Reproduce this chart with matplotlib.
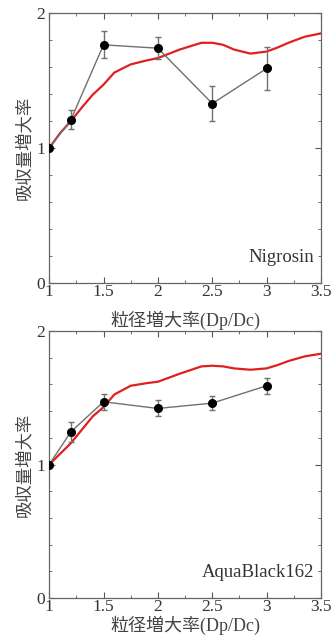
import matplotlib.pyplot as plt
from matplotlib.ticker import MultipleLocator

plt.rcParams['font.family'] = ['Liberation Serif', 'Noto Sans CJK JP']

# measured points
px = [1, 1.2, 1.5, 2, 2.5, 3]
nig_y = [1.0, 1.21, 1.765, 1.74, 1.33, 1.59]
nig_err = [0.0, 0.07, 0.10, 0.08, 0.13, 0.16]
aqua_y = [1.0, 1.245, 1.47, 1.42, 1.46, 1.59]
aqua_err = [0.0, 0.075, 0.06, 0.06, 0.05, 0.06]

# calculated curves
cx = [1.0, 1.1, 1.2, 1.3, 1.4, 1.5, 1.6, 1.75, 1.9, 2.0, 2.2, 2.4, 2.5,
      2.6, 2.7, 2.85, 3.0, 3.1, 3.2, 3.35, 3.5]
nig_c = [1.0, 1.11, 1.20, 1.30, 1.395, 1.47, 1.56, 1.62, 1.65, 1.667, 1.73,
         1.78, 1.78, 1.765, 1.73, 1.70, 1.715, 1.745, 1.78, 1.825, 1.85]
aqua_c = [1.0, 1.08, 1.16, 1.26, 1.36, 1.43, 1.525, 1.59, 1.61, 1.62, 1.68,
          1.735, 1.74, 1.735, 1.72, 1.71, 1.72, 1.745, 1.775, 1.81, 1.83]

fig = plt.figure(figsize=(3.32, 6.39), dpi=100)
ax1 = fig.add_axes([0.148, 0.557, 0.819, 0.4225])
ax2 = fig.add_axes([0.148, 0.064, 0.819, 0.418])

panels = [(ax1, nig_y, nig_err, nig_c, 'Nigrosin', 8),
          (ax2, aqua_y, aqua_err, aqua_c, 'AquaBlack162', 1)]

for ax, y, err, c, name, xpad in panels:
    ax.plot(cx, c, color='#e02020', lw=1.6, zorder=2)
    ax.errorbar(px, y, yerr=err, color='#707070', lw=1.0, elinewidth=1.0,
                capsize=2.5, marker='o', ms=5.5, mfc='black', mec='black',
                zorder=3)
    ax.set_xlim(1, 3.5)
    ax.set_ylim(0, 2)
    ax.xaxis.set_minor_locator(MultipleLocator(0.25))
    ax.yaxis.set_major_locator(MultipleLocator(1))
    ax.yaxis.set_minor_locator(MultipleLocator(0.2))
    ax.set_xticks([1, 1.5, 2, 2.5, 3, 3.5])
    ax.set_xticklabels(['1', '1.5', '2', '2.5', '3', '3.5'])
    ax.tick_params(which='both', direction='in', top=True, right=True,
                   color='#555555', labelsize=12.5, labelcolor='#333333')
    ax.tick_params(which='major', length=4)
    ax.tick_params(axis='x', which='major', pad=1)
    ax.tick_params(axis='y', which='major', pad=3)
    ax.tick_params(which='minor', length=2.5)
    for s in ax.spines.values():
        s.set_color('#666666')
        s.set_linewidth(0.9)
    ax.text(0.975, 0.065, name, transform=ax.transAxes, ha='right',
            va='bottom', fontsize=13.5, color='#333333')
    ax.set_ylabel('吸収量増大率', family=['Noto Sans CJK JP'], fontsize=12.5,
                  color='#444444', labelpad=2)
    ax.set_xlabel('粒径増大率(Dp/Dc)', fontsize=13, color='#444444',
                  labelpad=xpad - 1)

fig.savefig('out.png', dpi=100)
